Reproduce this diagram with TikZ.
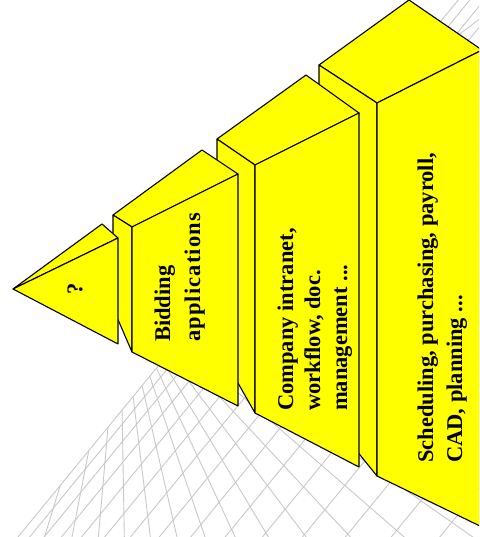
\documentclass[tikz,border=0pt]{standalone}
\usepackage{fontspec}
\setmainfont{Liberation Serif}
\definecolor{pyel}{RGB}{255,255,0}
\definecolor{gridgray}{RGB}{200,200,200}
\begin{document}
\begin{tikzpicture}[x=1pt,y=-1pt,
  face/.style={fill=pyel, draw=black, line width=1.1pt, line join=round},
  gridline/.style={draw=gridgray, line width=0.9pt},
  lbl/.style={rotate=90, font=\fontsize{22.5}{29}\selectfont\bfseries, inner sep=0pt, anchor=base west}]
\useasboundingbox (0,0) rectangle (479,537);
\begin{scope}
\clip (0,0) rectangle (479,537);
% perspective floor grid
\foreach \a in {113,107,...,-37} {
  \pgfmathsetmacro\r{122.56/(1.22*cos(\a)+sin(\a))}
  \draw[gridline] (120,290) ++(\a:\r) -- ++(\a:900);
}
\foreach \d in {0,9,20.2,33.6,49.2,67,87,109.2,133.6,160.2,189,220,253.2,288.6,326.2,366,408} {
  \pgfmathsetmacro\c{558.96+1.5775*\d}
  \draw[gridline] (-50,{\c+61}) -- (550,{\c-671});
}
% block 4 (base)
\draw[face] (319,65) -- (409,0) -- (482,50) -- (377,103) -- cycle;
\draw[face] (319,65) -- (377,103) -- (377,476) -- (319,404) -- cycle;
\draw[face] (377,103) -- (482,50) -- (482,527) -- (377,476) -- cycle;
% block 3
\draw[face] (217,139) -- (306,75) -- (359,113) -- (255,165) -- cycle;
\draw[face] (217,139) -- (255,165) -- (255,413) -- (217,346) -- cycle;
\draw[face] (255,165) -- (359,113) -- (359,467) -- (255,413) -- cycle;
% block 2
\draw[face] (113,215) -- (202,150) -- (238,174) -- (132,227) -- cycle;
\draw[face] (113,215) -- (132,227) -- (132,352) -- (113,308) -- cycle;
\draw[face] (132,227) -- (238,174) -- (238,406) -- (132,352) -- cycle;
% apex
\draw[face] (13,289) -- (102,224) -- (118,238) -- cycle;
\draw[face] (13,289) -- (118,238) -- (118,344) -- cycle;
\end{scope}
% labels
\node[lbl, anchor=center] (q) at (75,289) {?};
\node[lbl] (b1) at (170,342) {Bidding};
\node[lbl] (b2) at (200,342) {\addfontfeature{LetterSpace=5}applications};
\node[lbl] (c1) at (293,411) {Company intranet,};
\node[lbl] (c2) at (320,411) {workflow, doc.};
\node[lbl] (c3) at (347,411) {management ...};
\node[lbl] (s1) at (433,463) {Scheduling, purchasing, payroll,};
\node[lbl] (s2) at (462,463) {CAD, planning ...};
\end{tikzpicture}
\end{document}
